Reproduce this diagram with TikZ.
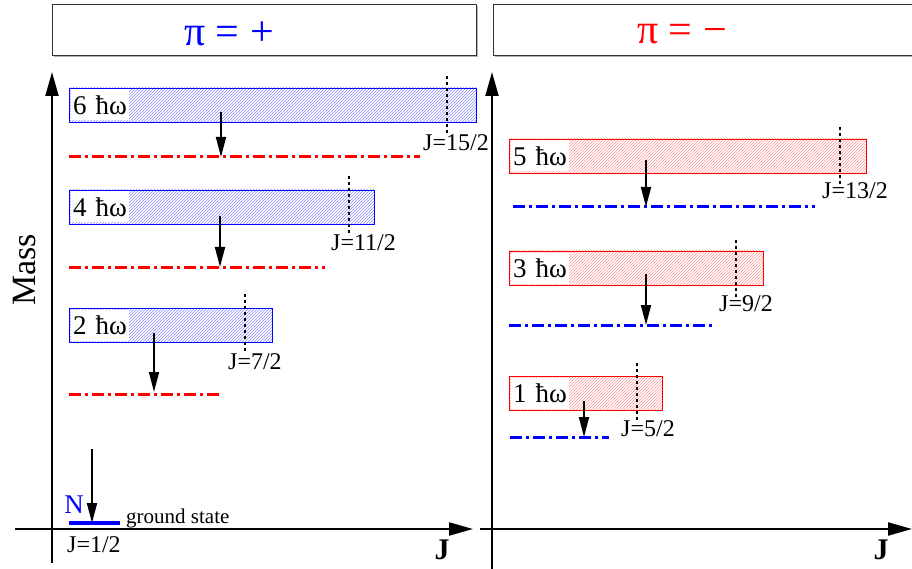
\documentclass[tikz,border=0pt]{standalone}
\usepackage{fontspec}
\setmainfont{Liberation Serif}
\usetikzlibrary{arrows.meta,patterns}
\begin{document}
\begin{tikzpicture}[x=1pt,y=-1pt,
  axis/.style={line width=2pt,-{Triangle[length=24pt,width=13pt]}},
  drop/.style={line width=1.8pt,-{Triangle[length=20pt,width=10pt]}},
  shellP/.style={draw=blue,line width=0.9pt,pattern=north east lines,pattern color=blue!45,anchor=north west,inner sep=0pt,outer sep=0pt},
  shellN/.style={draw=red,line width=0.9pt,pattern=north east lines,pattern color=red!40,anchor=north west,inner sep=0pt,outer sep=0pt},
  level/.style={line width=3pt,dash pattern=on 12pt off 4pt on 3pt off 4pt},
  jmark/.style={line width=1.6pt,dash pattern=on 3pt off 3pt},
  hwlab/.style={fill=white,inner xsep=2pt,inner ysep=1pt,minimum height=31pt,anchor=west,font=\fontsize{27}{30}\selectfont},
  jlab/.style={anchor=west,inner sep=0pt,font=\fontsize{24}{26}\selectfont},
  titlebox/.style={draw=black!80,fill=white,line width=0.9pt,anchor=north west,inner sep=0pt},
  titletxt/.style={font=\fontsize{42}{46}\selectfont},
  axlab/.style={font=\fontsize{30}{32}\selectfont\bfseries},
]
\useasboundingbox (0,0) rectangle (912,569);

% title boxes
\fill[black!30] (54,6) rectangle (478,57);
\node[titlebox,minimum width=424pt,minimum height=51pt] (tp) at (52,4) {};
\node[titletxt,text=blue] (tpl) at (229,34) {π = +};
\fill[black!30] (495,6) rectangle (920,57);
\node[titlebox,minimum width=425pt,minimum height=51pt] (tn) at (493,4) {};
\node[titletxt,text=red] (tnl) at (682,34) {π = −};

% axes
\coordinate (lyb) at (52,563); \coordinate (lyt) at (52,72);
\coordinate (lxl) at (15,529); \coordinate (lxr) at (473,529);
\coordinate (ryb) at (492,569); \coordinate (ryt) at (492,72);
\coordinate (rxl) at (480,529); \coordinate (rxr) at (912,529);
\draw[axis] (lyb) -- (lyt);
\draw[axis] (lxl) -- (lxr);
\draw[axis] (ryb) -- (ryt);
\draw[axis] (rxl) -- (rxr);
\node[axlab] (jl) at (442,550) {J};
\node[axlab] (jr) at (881,550) {J};
\node[rotate=90,font=\fontsize{34}{36}\selectfont] (mass) at (25,270) {Mass};

% ---------- positive parity ----------
\node[shellP,minimum width=407pt,minimum height=34pt] (b6) at (69,88) {};
\node[hwlab] (l6) at ([xshift=2pt]b6.west) {6\hspace{0.33em}ħω};
\node[shellP,minimum width=305pt,minimum height=34pt] (b4) at (69,190) {};
\node[hwlab] (l4) at ([xshift=2pt]b4.west) {4\hspace{0.33em}ħω};
\node[shellP,minimum width=203pt,minimum height=34pt] (b2) at (69,308) {};
\node[hwlab] (l2) at ([xshift=2pt]b2.west) {2\hspace{0.33em}ħω};

\coordinate (r6a) at (69,157); \coordinate (r6b) at (420,157);
\coordinate (r4a) at (69,267); \coordinate (r4b) at (325,267);
\coordinate (r2a) at (69,394); \coordinate (r2b) at (222,394);
\draw[level,red] (r6a) -- (r6b);
\draw[level,red] (r4a) -- (r4b);
\draw[level,red] (r2a) -- (r2b);

\coordinate (d6a) at (447,76);  \coordinate (d6b) at (447,133);
\coordinate (d4a) at (349,176); \coordinate (d4b) at (349,235);
\coordinate (d2a) at (245,294); \coordinate (d2b) at (245,352);
\draw[jmark] (d6a) -- (d6b);
\draw[jmark] (d4a) -- (d4b);
\draw[jmark] (d2a) -- (d2b);
\node[jlab] (j6) at (423,143) {J=15/2};
\node[jlab] (j4) at (331,243) {J=11/2};
\node[jlab] (j2) at (228,362) {J=7/2};

\coordinate (a6) at (221,112); \coordinate (e6) at (221,157);
\coordinate (a4) at (220,216); \coordinate (e4) at (220,267);
\coordinate (a2) at (154,333); \coordinate (e2) at (154,392);
\draw[drop] (a6) -- (e6);
\draw[drop] (a4) -- (e4);
\draw[drop] (a2) -- (e2);

% ground state
\coordinate (ga) at (69,523); \coordinate (gb) at (120,523);
\draw[blue,line width=4pt] (ga) -- (gb);
\coordinate (gs) at (92,449); \coordinate (ge) at (92,523);
\draw[drop] (gs) -- (ge);
\node[text=blue,font=\fontsize{27}{30}\selectfont,inner sep=0pt] (nuc) at (74,505) {N};
\node[anchor=west,inner sep=0pt,font=\fontsize{21}{24}\selectfont] (gst) at (126,518) {ground state};
\node[jlab] (j1) at (67,545) {J=1/2};

% ---------- negative parity ----------
\node[shellN,minimum width=357pt,minimum height=34pt] (b5) at (509,139) {};
\node[hwlab] (l5) at ([xshift=2pt]b5.west) {5\hspace{0.33em}ħω};
\node[shellN,minimum width=254pt,minimum height=34pt] (b3) at (509,251) {};
\node[hwlab] (l3) at ([xshift=2pt]b3.west) {3\hspace{0.33em}ħω};
\node[shellN,minimum width=153pt,minimum height=34pt] (b1) at (509,376) {};
\node[hwlab] (l1) at ([xshift=2pt]b1.west) {1\hspace{0.33em}ħω};

\coordinate (r5a) at (513,207); \coordinate (r5b) at (815,207);
\coordinate (r3a) at (509,325); \coordinate (r3b) at (712,325);
\coordinate (r1a) at (510,437); \coordinate (r1b) at (609,437);
\draw[level,blue] (r5a) -- (r5b);
\draw[level,blue] (r3a) -- (r3b);
\draw[level,blue] (r1a) -- (r1b);

\coordinate (d5a) at (840,127); \coordinate (d5b) at (840,185);
\coordinate (d3a) at (736,240); \coordinate (d3b) at (736,300);
\coordinate (d1a) at (637,363); \coordinate (d1b) at (637,422);
\draw[jmark] (d5a) -- (d5b);
\draw[jmark] (d3a) -- (d3b);
\draw[jmark] (d1a) -- (d1b);
\node[jlab] (j5) at (822,191) {J=13/2};
\node[jlab] (j3) at (719,304) {J=9/2};
\node[jlab] (j1n) at (621,429) {J=5/2};

\coordinate (a5) at (646,160); \coordinate (e5) at (646,207);
\coordinate (a3) at (646,274); \coordinate (e3) at (646,325);
\coordinate (a1) at (584,401); \coordinate (e1) at (584,437);
\draw[drop] (a5) -- (e5);
\draw[drop] (a3) -- (e3);
\draw[drop] (a1) -- (e1);
\end{tikzpicture}
\end{document}
